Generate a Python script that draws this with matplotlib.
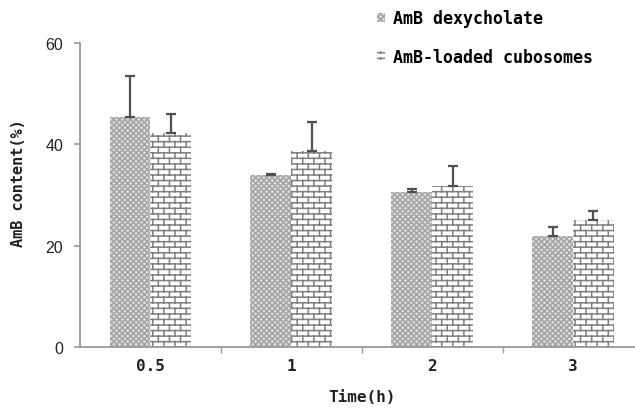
import numpy as np
import matplotlib
matplotlib.use("Agg")
import matplotlib.pyplot as plt
from matplotlib import hatch as mhatch
from matplotlib.path import Path


# data
times = ["0.5", "1", "2", "3"]
dex_mean = [45.4, 33.9, 30.6, 21.9]
dex_err = [8.1, 0.3, 0.6, 1.8]
cubo_mean = [42.2, 38.7, 31.8, 25.0]
cubo_err = [3.8, 5.7, 3.9, 1.8]
series_labels = ["AmB dexycholate", "AmB-loaded cubosomes"]


# brick hatch, hooked onto the 'O' character
class BrickHatch(mhatch.HatchPatternBase):
    rows = 18

    def __init__(self, hatch, density):
        self.on = hatch.count('O') > 0
        per_row = self.rows // 2
        # horizontal lines + vertical joints (+ wrap piece of the last row)
        self.num_vertices = (2 * self.rows + 2 * self.rows * per_row
                             + 2 * per_row) if self.on else 0

    def set_vertices_and_codes(self, vertices, codes):
        n = self.rows
        per_row = n // 2
        h = 1.0 / n
        segs = []
        for i in range(n):
            y = (i + 0.5) * h
            segs.append(((0.0, y), (1.0, y)))
        for i in range(n):
            y0 = (i + 0.5) * h
            y1 = min((i + 1.5) * h, 1.0)
            for k in range(per_row):
                xk = (k + 0.25 + 0.5 * (i % 2)) * 2 * h
                segs.append(((xk, y0), (xk, y1)))
        # part of the last row that wraps to the bottom of the tile
        i = n - 1
        for k in range(per_row):
            xk = (k + 0.25 + 0.5 * (i % 2)) * 2 * h
            segs.append(((xk, 0.0), (xk, 0.5 * h)))
        for j, (a, b) in enumerate(segs):
            vertices[2 * j] = a
            vertices[2 * j + 1] = b
            codes[2 * j] = Path.MOVETO
            codes[2 * j + 1] = Path.LINETO


mhatch._hatch_types = [t for t in mhatch._hatch_types
                       if t is not mhatch.LargeCircles] + [BrickHatch]

plt.rcParams['hatch.linewidth'] = 1.1

fig = plt.figure(figsize=(6.35, 4.10), dpi=100)
ax = fig.add_axes([80 / 635, 62 / 410, 555 / 635, 304 / 410])

x = np.arange(len(times))
w = 0.29
zeros = np.zeros(len(times))

b1 = ax.bar(x - w / 2, dex_mean, w, facecolor='#dedede', edgecolor='#a4a4a4',
            hatch='xxxxxx', linewidth=0, label=series_labels[0])
b2 = ax.bar(x + w / 2, cubo_mean, w, facecolor='white', edgecolor='#808080',
            hatch='O', linewidth=0, label=series_labels[1])
ax.errorbar(x - w / 2, dex_mean, yerr=[zeros, dex_err], fmt='none',
            ecolor='#505050', elinewidth=1.6, capsize=3.3, capthick=1.6)
ax.errorbar(x + w / 2, cubo_mean, yerr=[zeros, cubo_err], fmt='none',
            ecolor='#505050', elinewidth=1.6, capsize=3.3, capthick=1.6)

ax.set_xlim(-0.5, 3.44)
ax.set_ylim(0, 60)
ax.set_yticks([0, 20, 40, 60])
ax.set_yticklabels(["0", "20", "40", "60"], family='Liberation Sans',
                   fontsize=11.5, color='#222222')
ax.set_xticks(x)
ax.set_xticklabels(times, family='DejaVu Sans Mono', fontweight='bold',
                   fontsize=11.5, color='#222222')
ax.set_xticks([0.5, 1.5, 2.5], minor=True)
ax.tick_params(axis='x', which='major', length=0, pad=8)
ax.tick_params(axis='x', which='minor', length=4, color='#999999', width=1)
ax.tick_params(axis='y', length=4, color='#999999', width=1.2, pad=8)

for s in ['top', 'right']:
    ax.spines[s].set_visible(False)
for s in ['left', 'bottom']:
    ax.spines[s].set_color('#999999')
    ax.spines[s].set_linewidth(1.3)

fig.text(362 / 635, 1 - 398 / 410, "Time(h)", ha='center', va='center',
         family='DejaVu Sans Mono', fontweight='bold', fontsize=11.5, color='#222222')
fig.text(19 / 635, 1 - 183 / 410, "AmB content(%)", ha='center', va='center',
         rotation=90, family='DejaVu Sans Mono', fontweight='bold', fontsize=11,
         color='#222222')

fig.legend(handles=[b1, b2], loc='upper left', bbox_to_anchor=(362 / 635, 1 + 5 / 410),
           frameon=False, handlelength=0.45, handleheight=0.45, handletextpad=0.5,
           labelspacing=1.25, prop={'family': 'DejaVu Sans Mono', 'weight': 'bold',
                                    'size': 12})

fig.savefig("out.png", dpi=100)
